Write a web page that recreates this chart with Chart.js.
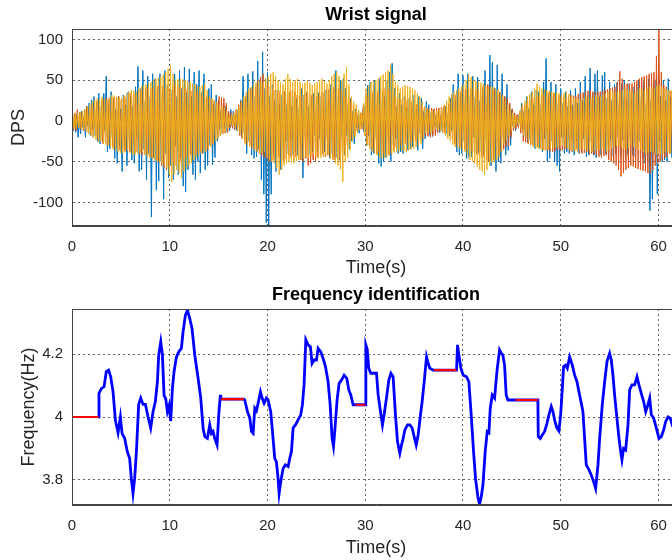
<!DOCTYPE html>
<html lang="en">
<head>
  <meta charset="UTF-8">
  <title>Wrist signal / Frequency identification</title>
  <script src="https://cdn.jsdelivr.net/npm/chart.js"></script>
  <style>
    html, body { margin: 0; padding: 0; background: #fff; overflow: hidden; }
    canvas { position: absolute; left: 0; }
  </style>
</head>
<body>
  <canvas id="wristChart" width="680" height="280" style="top:0;width:680px;height:280px"></canvas>
  <canvas id="freqChart" width="680" height="280" style="top:280px;width:680px;height:280px"></canvas>

  <script>
    // seconds between the stored wrist samples (8 per second)
    const sampleStep = 0.125;

    const timeTicks = [0, 10, 20, 30, 40, 50, 60];
    const wristTicks = [-100, -50, 0, 50, 100];
    const freqTicks = [3.8, 4, 4.2];

    // gyro channels (DPS), one row of 8 samples = one second
    const blueSignal = [
      10,-12,4,-14,8,-20,3,-16, 12,-8,5,-20,18,-6,22,-18, 26,-10,30,-18,12,-25,34,-28,
      18,-26,34,-12,55,-38,20,-34, 36,-20,28,-46,14,-52,30,-30, 15,-62,32,-30,20,-55,36,-25,
      30,-48,18,-52,42,-20,67,-62, 40,-60,62,-35,25,-72,55,-40, 30,-118,58,-45,52,-85,20,-74,
      58,-50,35,-96,62,-40,44,-70, 20,-55,38,-72,58,-30,30,-66, 62,-45,40,-80,66,-87,35,-60,
      64,-40,30,-66,60,-72,45,-50, 62,-64,35,-40,58,-60,28,-55, 40,-30,45,-54,20,-45,32,-25,
      25,-10,12,-15,22,-8,18,-14, 8,-12,14,-6,12,-11,6,-12, 14,-8,26,-20,55,-15,30,-40,
      58,-25,40,-42,61,-46,30,-44, 74,-35,50,-72,85,-90,40,-125, 60,-128,30,-90,45,-40,25,-62,
      38,-30,20,-60,32,-48,36,-25, 20,-40,35,-22,18,-42,30,-38, 28,-42,15,-30,40,-70,32,-20,
      35,-20,18,-42,30,-38,34,-18, 20,-36,35,-22,30,-40,15,-38, 38,-20,25,-46,45,-40,22,-44,
      62,-45,30,-48,50,-20,52,-42, 40,-18,20,-35,28,-25,12,-28, 15,-8,6,-15,10,-6,14,-13,
      20,-30,44,-18,48,-42,25,-40, 50,-20,30,-52,52,-56,25,-50, 30,-45,50,-25,60,-50,71,-30,
      40,-22,18,-40,34,-38,20,-40, 30,-15,16,-36,28,-34,14,-32, 32,-18,15,-36,30,-16,28,-34,
      12,-22,24,-10,20,-18,10,-19, 14,-6,8,-13,12,-14,6,-12, 16,-8,18,-16,10,-18,28,-12,
      45,-20,25,-38,58,-42,30,-40, 56,-25,35,-46,58,-45,30,-44, 55,-20,30,-40,54,-39,25,-38,
      30,-42,62,-25,40,-50,81,-55, 72,-30,40,-62,69,-50,35,-52, 58,-20,30,-42,45,-36,22,-30,
      14,-6,10,-12,4,-6,8,-4, 22,-10,12,-20,30,-26,15,-24, 36,-15,20,-34,38,-18,36,-33,
      20,-38,48,-22,77,-50,30,-46, 48,-25,30,-50,45,-55,22,-62, 40,-20,22,-40,36,-38,18,-40,
      38,-20,20,-42,40,-25,22,-40, 48,-38,25,-22,55,-44,30,-42, 65,-25,35,-42,58,-45,62,-20,
      30,-42,56,-20,60,-41,28,-40, 48,-22,25,-44,45,-40,47,-20, 22,-42,46,-24,50,-45,25,-42,
      46,-20,25,-42,42,-44,45,-22, 50,-25,30,-46,48,-52,20,-50, 52,-110,25,-96,48,-40,50,-90,
      55,-25,30,-50,50,-48,25,-50, 52,-20,30,-45,55,-42,28,-43, 40
    ];
    const orangeSignal = [
      12,-10,10,-12,14,-8,11,-10, 10,-12,14,-10,18,-14,16,-15, 20,-20,22,-18,24,-22,23,-24,
      25,-28,26,-26,28,-30,27,-28, 30,-32,29,-33,28,-34,30,-36, 26,-38,28,-37,30,-36,32,-38,
      34,-40,33,-39,32,-38,35,-40, 36,-42,38,-41,40,-40,41,-43, 40,-45,41,-46,42,-48,43,-50,
      45,-55,43,-57,40,-60,42,-56, 40,-50,43,-52,45,-55,44,-54, 42,-50,41,-48,40,-45,40,-44,
      38,-42,37,-41,36,-40,35,-39, 34,-38,32,-36,30,-35,30,-33, 28,-30,27,-28,25,-22,24,-20,
      30,-18,29,-16,28,-15,22,-14, 12,-8,10,-9,10,-10,14,-12, 20,-18,24,-22,28,-25,30,-27,
      35,-30,38,-33,40,-35,42,-36, 50,-40,54,-42,58,-45,52,-46, 45,-50,42,-49,40,-48,38,-50,
      38,-45,37,-48,36,-50,37,-47, 35,-42,36,-45,38,-48,36,-44, 32,-45,31,-48,30,-50,33,-46,
      35,-55,34,-52,32,-48,34,-50, 30,-45,32,-42,34,-40,35,-44, 38,-42,39,-44,40,-46,41,-48,
      42,-48,40,-46,38,-44,36,-40, 30,-30,28,-26,25,-22,20,-18, 12,-12,11,-11,10,-10,18,-16,
      30,-28,32,-30,35,-32,36,-36, 38,-40,36,-39,35,-38,37,-40, 40,-42,39,-41,38,-40,35,-36,
      30,-32,29,-31,28,-30,27,-29, 25,-28,26,-27,26,-25,24,-26, 22,-24,21,-23,20,-22,18,-21,
      16,-18,15,-19,15,-20,16,-18, 15,-18,16,-15,16,-12,17,-14, 18,-15,19,-16,20,-16,25,-22,
      30,-28,32,-29,35,-30,36,-33, 38,-35,39,-36,40,-38,40,-37, 40,-38,39,-40,38,-42,40,-44,
      42,-45,44,-48,45,-50,43,-49, 40,-48,39,-45,38,-42,35,-38, 32,-35,30,-32,28,-30,22,-20,
      15,-12,10,-10,8,-8,12,-15, 18,-25,20,-26,22,-28,25,-29, 28,-30,29,-31,30,-32,31,-34,
      32,-35,33,-36,34,-36,35,-37, 35,-38,34,-37,32,-35,31,-36, 30,-36,29,-35,28,-34,30,-37,
      32,-38,31,-36,30,-35,33,-39, 34,-40,35,-39,36,-38,37,-40, 38,-40,36,-41,35,-42,36,-44,
      36,-45,37,-43,38,-42,39,-48, 40,-50,41,-52,42,-55,48,-60, 61,-68,52,-64,45,-60,46,-58,
      45,-55,46,-56,48,-58,50,-59, 52,-60,54,-61,55,-62,56,-64, 58,-65,59,-60,60,-55,80,-52,
      115,-50,60,-48,45,-45,42,-44, 38,-40,37,-39,36,-38,34,-36, 30
    ];
    const yellowSignal = [
      8,-10,9,-9,10,-8,11,-10, 12,-10,14,-13,18,-16,20,-18, 24,-20,26,-23,28,-26,27,-25,
      30,-28,28,-29,26,-30,29,-32, 32,-35,31,-36,30,-38,29,-39, 28,-40,31,-38,34,-36,36,-39,
      38,-42,37,-41,36,-40,40,-39, 42,-38,44,-41,45,-44,46,-45, 48,-46,50,-48,52,-50,53,-51,
      55,-52,57,-55,60,-58,64,-66, 69,-75,58,-66,50,-60,51,-64, 52,-70,51,-62,50,-58,49,-55,
      48,-52,46,-48,45,-45,43,-42, 42,-40,44,-39,45,-38,38,-35, 30,-32,28,-28,25,-25,22,-22,
      20,-18,18,-16,16,-15,12,-10, 6,-5,8,-6,10,-8,14,-12, 18,-15,24,-22,30,-28,35,-30,
      40,-32,42,-34,45,-36,47,-38, 50,-40,49,-39,48,-38,52,-44, 55,-48,58,-50,60,-52,55,-58,
      50,-66,48,-60,45,-55,52,-52, 58,-50,52,-51,48,-52,50,-49, 52,-48,48,-47,45,-46,47,-44,
      50,-45,47,-43,44,-40,46,-44, 48,-46,50,-45,52,-44,49,-43, 46,-42,50,-45,55,-48,58,-52,
      60,-55,55,-60,50,-75,58,-50, 66,-45,45,-35,30,-25,24,-20, 20,-15,14,-11,10,-8,22,-18,
      40,-30,44,-34,48,-38,49,-40, 50,-42,52,-44,55,-46,57,-45, 60,-44,62,-43,69,-40,58,-39,
      48,-38,44,-37,40,-36,42,-37, 44,-38,43,-36,42,-35,40,-34, 38,-32,34,-30,30,-28,24,-22,
      18,-15,16,-15,15,-14,13,-12, 12,-10,13,-11,14,-12,16,-14, 20,-18,25,-22,30,-25,33,-29,
      36,-32,38,-33,40,-34,42,-36, 45,-38,50,-42,57,-48,54,-50, 50,-52,49,-56,48,-60,47,-62,
      46,-66,43,-60,40,-55,41,-52, 42,-50,40,-48,38,-45,34,-38, 30,-28,25,-24,20,-18,15,-12,
      10,-8,7,-6,5,-5,12,-10, 20,-18,24,-20,30,-25,33,-28, 36,-32,40,-33,46,-34,42,-35,
      40,-36,39,-36,38,-35,37,-34, 36,-34,35,-33,35,-32,34,-31, 32,-30,34,-32,36,-34,33,-35,
      30,-36,29,-37,28,-38,27,-35, 26,-34,28,-35,30,-36,29,-37, 28,-38,30,-37,32,-36,31,-35,
      30,-35,32,-36,34,-38,36,-36, 38,-34,36,-32,35,-30,36,-31, 36,-32,38,-34,40,-35,39,-33,
      38,-30,36,-32,34,-34,37,-35, 40,-36,39,-38,38,-40,41,-39, 42,-38,41,-39,40,-40,43,-41,
      44,-42,42,-40,40,-38,39,-39, 38,-40,37,-37,36,-35,34,-33, 30
    ];

    // identified frequency (Hz)
    const freqTime = [
      2.73, 2.76, 3.00, 3.28, 3.51, 3.75, 3.96, 4.20, 4.44, 4.71, 4.95, 5.12, 5.39, 5.66, 5.90,
      6.07, 6.24, 6.41, 6.59, 6.82, 7.03, 7.27, 7.51, 7.78, 8.05, 8.29, 8.53, 8.74, 8.87, 9.08,
      9.25, 9.42, 9.59, 9.76, 9.93, 10.10, 10.27, 10.44, 10.68, 10.92, 11.19, 11.36, 11.60, 11.81, 12.04,
      12.28, 12.56, 12.90, 13.17, 13.41, 13.58, 13.85, 14.09, 14.26, 14.43, 14.60, 14.84, 15.01, 15.18, 15.22,
      17.57, 17.67, 17.95, 18.19, 18.36, 18.53, 18.70, 18.87, 19.11, 19.28, 19.45, 19.65, 19.89, 20.06, 20.33,
      20.57, 20.74, 20.91, 21.08, 21.19, 21.36, 21.60, 21.83, 22.11, 22.28, 22.45, 22.62, 22.86, 23.13, 23.40,
      23.57, 23.74, 23.92, 24.15, 24.39, 24.56, 24.77, 25.01, 25.18, 25.45, 25.69, 25.93, 26.20, 26.41, 26.61,
      26.75, 26.88, 27.12, 27.33, 27.57, 27.84, 28.11, 28.32, 28.52, 28.76, 29.00, 30.02, 30.06, 30.20, 30.36,
      30.57, 30.91, 31.15, 31.32, 31.56, 31.76, 31.93, 32.17, 32.41, 32.62, 32.85, 33.09, 33.30, 33.54, 33.71,
      33.88, 34.05, 34.32, 34.56, 34.80, 35.00, 35.21, 35.41, 35.65, 35.82, 36.03, 36.27, 36.44, 36.61, 36.95,
      37.05, 39.34, 39.44, 39.58, 39.78, 40.02, 40.36, 40.60, 40.84, 41.08, 41.28, 41.52, 41.69, 41.87, 42.04,
      42.27, 42.48, 42.65, 42.79, 42.99, 43.23, 43.47, 43.74, 43.91, 44.08, 44.25, 44.42, 44.59, 45.10, 45.38,
      47.66, 47.70, 47.90, 48.11, 48.35, 48.59, 48.79, 49.03, 49.20, 49.41, 49.61, 49.81, 49.99, 50.16, 50.29,
      50.50, 50.67, 50.91, 51.18, 51.42, 51.66, 51.86, 52.10, 52.27, 52.44, 52.61, 52.89, 53.12, 53.36, 53.57,
      53.81, 53.98, 54.25, 54.49, 54.73, 55.00, 55.17, 55.34, 55.51, 55.75, 55.96, 56.13, 56.26, 56.43, 56.64,
      56.88, 57.05, 57.29, 57.56, 57.80, 58.00, 58.24, 58.48, 58.69, 58.92, 59.10, 59.27, 59.51, 59.78, 60.05,
      60.29, 60.53, 60.73, 60.97, 61.21, 61.41, 62.00
    ];
    const freqValue = [
      4.000, 4.075, 4.090, 4.096, 4.144, 4.149, 4.128, 4.080, 3.990, 3.950, 4.000, 3.948, 3.932, 3.890, 3.868,
      3.805, 3.757, 3.805, 3.890, 4.040, 4.060, 4.040, 4.040, 4.000, 3.965, 4.017, 4.050, 4.112, 4.197, 4.239,
      4.197, 4.068, 4.058, 4.017, 4.036, 3.987, 4.090, 4.144, 4.190, 4.207, 4.218, 4.270, 4.323, 4.340, 4.313,
      4.281, 4.197, 4.123, 4.060, 3.965, 3.938, 3.932, 3.975, 3.948, 3.954, 3.932, 3.911, 4.007, 4.070, 4.057,
      4.057, 4.054, 4.017, 3.997, 3.954, 3.948, 4.028, 4.020, 4.054, 4.080, 4.060, 4.044, 4.060, 4.054, 4.017,
      3.932, 3.869, 3.858, 3.805, 3.757, 3.795, 3.837, 3.848, 3.843, 3.869, 3.890, 3.965, 3.975, 3.991, 4.007,
      4.039, 4.102, 4.245, 4.229, 4.223, 4.170, 4.181, 4.181, 4.218, 4.207, 4.186, 4.160, 4.112, 4.039, 3.932,
      3.906, 3.954, 4.054, 4.107, 4.117, 4.133, 4.123, 4.086, 4.070, 4.039, 4.039, 4.039, 4.229, 4.215, 4.155,
      4.139, 4.139, 4.139, 4.070, 4.017, 3.975, 4.007, 4.060, 4.117, 4.139, 4.128, 4.007, 3.922, 3.885, 3.911,
      3.932, 3.959, 3.975, 3.975, 3.965, 3.938, 3.911, 3.943, 4.007, 4.049, 4.112, 4.191, 4.170, 4.155, 4.149,
      4.149, 4.149, 4.229, 4.197, 4.155, 4.133, 4.128, 4.112, 4.007, 3.890, 3.805, 3.747, 3.723, 3.747, 3.784,
      3.890, 3.954, 3.950, 4.028, 4.070, 4.060, 4.144, 4.213, 4.203, 4.197, 4.165, 4.070, 4.054, 4.054, 4.054,
      4.054, 3.938, 3.932, 3.943, 3.954, 3.980, 4.007, 4.033, 4.017, 3.985, 3.965, 3.956, 4.007, 4.090, 4.160,
      4.165, 4.155, 4.191, 4.165, 4.133, 4.112, 4.080, 4.044, 4.017, 3.932, 3.848, 3.832, 3.816, 3.795, 3.773,
      3.848, 3.932, 4.039, 4.112, 4.176, 4.202, 4.181, 4.133, 4.070, 3.996, 3.932, 3.890, 3.864, 3.900, 3.895,
      3.975, 4.086, 4.102, 4.102, 4.128, 4.102, 4.075, 4.049, 4.017, 4.039, 4.060, 4.007, 3.996, 3.965, 3.932,
      3.938, 3.959, 3.985, 4.000, 3.996, 3.975, 3.990
    ];

    // stretches where the estimate was held (red)
    const holdStart = [0, 15.22, 29.00, 37.05, 45.38];
    const holdEnd = [2.73, 17.57, 30.02, 39.34, 47.66];
    const holdLevel = [4.000, 4.057, 4.039, 4.149, 4.054];

    const fontFamily = "'Liberation Sans', Arial, Helvetica, sans-serif";
    const axisColor = '#262626';

    // matlab style box round the axes
    const axesBox = {
      id: 'axesBox',
      afterDraw(chart) {
        const { ctx, chartArea: a } = chart;
        ctx.save();
        ctx.strokeStyle = '#444';
        ctx.lineWidth = 1;
        ctx.strokeRect(a.left + 0.5, a.top + 0.5, a.right - a.left - 1, a.bottom - a.top - 1);
        ctx.restore();
      }
    };

    const plainTick = v => String(v);

    function makeOptions(title, yTitle, yMin, yMax, yTickValues, yTitlePad, xAxisHeight) {
      return {
        responsive: false,
        animation: false,
        events: [],
        layout: { padding: 0 },
        plugins: {
          legend: { display: false },
          tooltip: { enabled: false },
          title: {
            display: true,
            text: title,
            fullSize: false,
            color: '#000',
            font: { family: fontFamily, size: 18, weight: 'bold' },
            padding: { top: 4, bottom: 3.4 }
          }
        },
        scales: {
          x: {
            type: 'linear',
            min: 0,
            max: 62.2,
            afterBuildTicks: s => { s.ticks = timeTicks.map(v => ({ value: v })); },
            afterFit: s => { s.height = xAxisHeight; },
            ticks: {
              color: axisColor,
              font: { family: fontFamily, size: 15 },
              padding: 11.5,
              maxRotation: 0,
              autoSkip: false,
              callback: plainTick
            },
            grid: { color: 'rgba(0,0,0,0.6)', lineWidth: 1, drawTicks: false },
            border: { display: true, color: '#444', dash: [2, 3] },
            title: {
              display: true,
              text: 'Time(s)',
              color: axisColor,
              font: { family: fontFamily, size: 18 },
              padding: { top: 0, bottom: 1 }
            }
          },
          y: {
            type: 'linear',
            min: yMin,
            max: yMax,
            afterBuildTicks: s => { s.ticks = yTickValues.map(v => ({ value: v })); },
            afterFit: s => { s.width = 72; },
            ticks: {
              color: axisColor,
              font: { family: fontFamily, size: 15 },
              padding: 9,
              callback: plainTick
            },
            grid: { color: 'rgba(0,0,0,0.6)', lineWidth: 1, drawTicks: false },
            border: { display: true, color: '#444', dash: [2, 3] },
            title: {
              display: true,
              text: yTitle,
              color: axisColor,
              font: { family: fontFamily, size: 18 },
              padding: { top: yTitlePad, bottom: 0 }
            }
          }
        }
      };
    }

    // channels were sampled a little apart from each other
    function toPoints(values, lag) {
      return values.map((v, i) => ({ x: i * sampleStep + lag, y: v }));
    }

    function signalSet(values, color, fillColor, lag) {
      return {
        data: toPoints(values, lag),
        borderColor: color,
        backgroundColor: fillColor,
        borderWidth: 1,
        pointRadius: 0,
        tension: 0,
        fill: 'origin'
      };
    }

    // top: wrist signal, yellow drawn last in matlab so it goes first here
    new Chart(document.getElementById('wristChart'), {
      type: 'line',
      data: {
        datasets: [
          signalSet(yellowSignal, '#EDB120', 'rgba(237,177,32,0.8)', 0.08),
          signalSet(orangeSignal, '#D95319', 'rgba(217,83,25,0.8)', 0.04),
          signalSet(blueSignal, '#0072BD', 'rgba(0,114,189,0.8)', 0)
        ]
      },
      options: makeOptions('Wrist signal', 'DPS', -129, 113, wristTicks, 8, 54),
      plugins: [axesBox]
    });

    // bottom: frequency identification
    const holdPoints = [];
    holdStart.forEach((s, i) => {
      holdPoints.push({ x: s, y: holdLevel[i] });
      holdPoints.push({ x: holdEnd[i], y: holdLevel[i] });
      holdPoints.push({ x: holdEnd[i], y: null });
    });

    new Chart(document.getElementById('freqChart'), {
      type: 'line',
      data: {
        datasets: [
          {
            data: holdPoints,
            borderColor: '#FF0000',
            borderWidth: 2.2,
            pointRadius: 0,
            spanGaps: false,
            fill: false
          },
          {
            data: freqTime.map((t, i) => ({ x: t, y: freqValue[i] })),
            borderColor: '#0000FF',
            borderWidth: 2.8,
            pointRadius: 0,
            tension: 0,
            fill: false
          }
        ]
      },
      options: makeOptions('Frequency identification', 'Frequency(Hz)', 3.7206, 4.343, freqTicks, 18, 55),
      plugins: [axesBox]
    });
  </script>
</body>
</html>
